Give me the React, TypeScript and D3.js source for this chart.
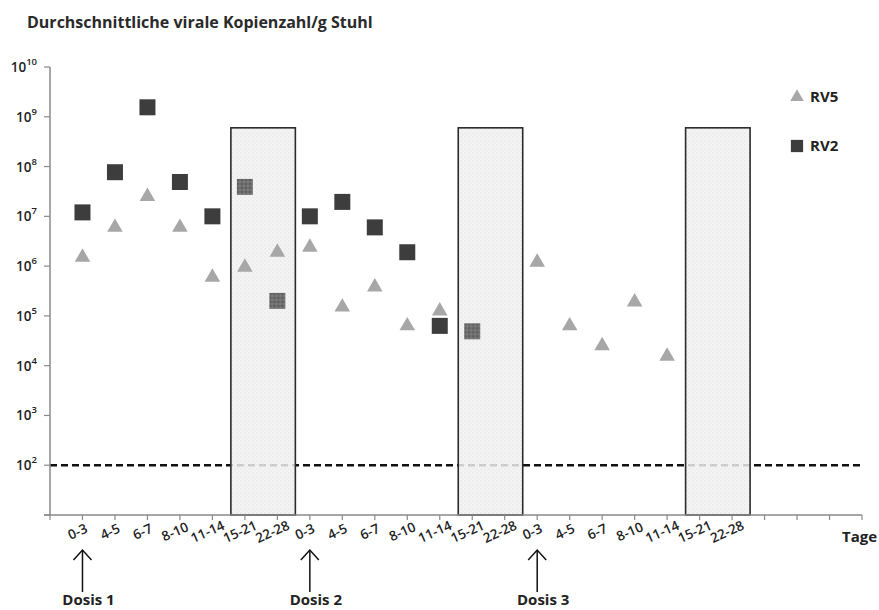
import * as d3 from "d3";

// Tage-Kategorien, wiederholt für jede Dosis
const categories = [
  "0-3", "4-5", "6-7", "8-10", "11-14", "15-21", "22-28",
  "0-3", "4-5", "6-7", "8-10", "11-14", "15-21", "22-28",
  "0-3", "4-5", "6-7", "8-10", "11-14", "15-21", "22-28",
];

const rv2: (number | null)[] = [
  1.2e7, 7.7e7, 1.55e9, 4.9e7, 1e7, 3.9e7, 2e5,
  1e7, 1.95e7, 6e6, 1.9e6, 6.3e4, 4.9e4, null,
  null, null, null, null, null, null, null,
];

const rv5: (number | null)[] = [
  1.5e6, 6e6, 2.5e7, 6e6, 6e5, 9.5e5, 1.9e6,
  2.4e6, 1.5e5, 3.8e5, 6.3e4, 1.25e5, null, null,
  1.2e6, 6.3e4, 2.5e4, 1.9e5, 1.55e4, null, null,
];

// schattierte Fenster (Kategorie-Indizes)
const windows: [number, number][] = [[5, 6], [12, 13], [19, 20]];
const windowTop = 6e8;

const doses = [
  { label: "Dosis 1", index: 0 },
  { label: "Dosis 2", index: 7 },
  { label: "Dosis 3", index: 14 },
];

const yTicks = [10, 100, 1e3, 1e4, 1e5, 1e6, 1e7, 1e8, 1e9, 1e10];
const threshold = 100;

const W = 879;
const H = 610;
const font = "'Open Sans', 'DejaVu Sans', sans-serif";

const x = d3.scaleLinear().domain([0, 25]).range([50, 862]);
const y = d3.scaleLog().domain([10, 1e10]).range([515, 67]);
const pos = (i: number) => x(i + 1);

const tri = d3.symbol(d3.symbolTriangle, 105)()!;
const sq = d3.symbol(d3.symbolSquare, 256)()!;
const triLegend = d3.symbol(d3.symbolTriangle, 80)()!;
const sqLegend = d3.symbol(d3.symbolSquare, 150)()!;

const inWindow = (i: number) => windows.some(([a, b]) => i >= a && i <= b);

export default function App() {
  return (
    <svg
      width={W}
      height={H}
      style={{ position: "absolute", left: 0, top: 0, background: "#fff" }}
      fontFamily={font}
    >
      <defs>
        <pattern id="boxTex" width="4" height="4" patternUnits="userSpaceOnUse">
          <rect width="4" height="4" fill="#f2f2f2" />
          <rect width="2" height="2" fill="#e9e9e9" />
          <rect x="2" y="2" width="2" height="2" fill="#ececec" />
        </pattern>
        <pattern id="sqTex" width="4" height="4" patternUnits="userSpaceOnUse">
          <rect width="4" height="4" fill="#6f6f6f" />
          <rect width="2" height="2" fill="#5e5e5e" />
          <rect x="2" y="2" width="2" height="2" fill="#7c7c7c" />
        </pattern>
      </defs>

      <text x={27} y={28} fontSize={16} fontWeight={700} fill="#2a2a2a">
        Durchschnittliche virale Kopienzahl/g Stuhl
      </text>

      {/* Nachweisgrenze */}
      <line
        x1={x(0)}
        x2={x(25)}
        y1={y(threshold)}
        y2={y(threshold)}
        stroke="#111"
        strokeWidth={2.5}
        strokeDasharray="7 4"
      />

      {/* Fenster */}
      {windows.map(([a, b], k) => (
        <rect
          key={k}
          x={pos(a) - 14}
          y={y(windowTop)}
          width={pos(b) - pos(a) + 32}
          height={y(10) - y(windowTop)}
          fill="url(#boxTex)"
          fillOpacity={0.85}
          stroke="#2b2b2b"
          strokeWidth={1.6}
        />
      ))}

      {/* Achsen */}
      <line x1={x(0)} x2={x(0)} y1={y(1e10)} y2={y(10)} stroke="#8a8a8a" strokeWidth={1.5} />
      <line x1={44} x2={x(25)} y1={y(10)} y2={y(10)} stroke="#8a8a8a" strokeWidth={1.5} />
      {yTicks.map((t) => (
        <g key={t}>
          <line x1={44} x2={x(0)} y1={y(t)} y2={y(t)} stroke="#8a8a8a" strokeWidth={1.2} />
          {t > 10 && (
            <text x={37} y={y(t) + 5} textAnchor="end" fontSize={13.5} fontWeight={600} fill="#222">
              10
              <tspan dy={-7} fontSize={9.5}>
                {Math.round(Math.log10(t))}
              </tspan>
            </text>
          )}
        </g>
      ))}
      {d3.range(0, 26).map((k) => (
        <line key={k} x1={x(k)} x2={x(k)} y1={y(10)} y2={y(10) + 5} stroke="#8a8a8a" strokeWidth={1.2} />
      ))}
      {categories.map((c, i) => (
        <text
          key={i}
          transform={`translate(${pos(i) - 3},${536}) rotate(-24)`}
          textAnchor="middle"
          fontSize={13.5}
          fontWeight={600}
          fill="#222"
        >
          {c}
        </text>
      ))}
      <text x={842} y={542} fontSize={15} fontWeight={700} fill="#222">
        Tage
      </text>

      {/* RV5 */}
      {rv5.map((v, i) =>
        v == null ? null : (
          <path key={i} d={tri} transform={`translate(${pos(i)},${y(v)})`} fill="#a7a7a7" />
        )
      )}
      {/* RV2 */}
      {rv2.map((v, i) =>
        v == null ? null : (
          <path
            key={i}
            d={sq}
            transform={`translate(${pos(i)},${y(v)})`}
            fill={inWindow(i) ? "url(#sqTex)" : "#3d3d3d"}
          />
        )
      )}

      {/* Legende */}
      <path d={triLegend} transform="translate(797,97)" fill="#a7a7a7" />
      <text x={810} y={102} fontSize={15} fontWeight={700} fill="#222">
        RV5
      </text>
      <path d={sqLegend} transform="translate(797,146)" fill="#3d3d3d" />
      <text x={810} y={151} fontSize={15} fontWeight={700} fill="#222">
        RV2
      </text>

      {/* Dosis-Pfeile */}
      {doses.map((d) => {
        const px = pos(d.index);
        return (
          <g key={d.label}>
            <line x1={px} x2={px} y1={550} y2={592} stroke="#111" strokeWidth={1.5} />
            <path
              d={`M${px - 9},${560} L${px},${550} L${px + 9},${560}`}
              fill="none"
              stroke="#111"
              strokeWidth={1.5}
            />
            <text x={px + 6} y={605} textAnchor="middle" fontSize={15} fontWeight={700} fill="#222">
              {d.label}
            </text>
          </g>
        );
      })}
    </svg>
  );
}
